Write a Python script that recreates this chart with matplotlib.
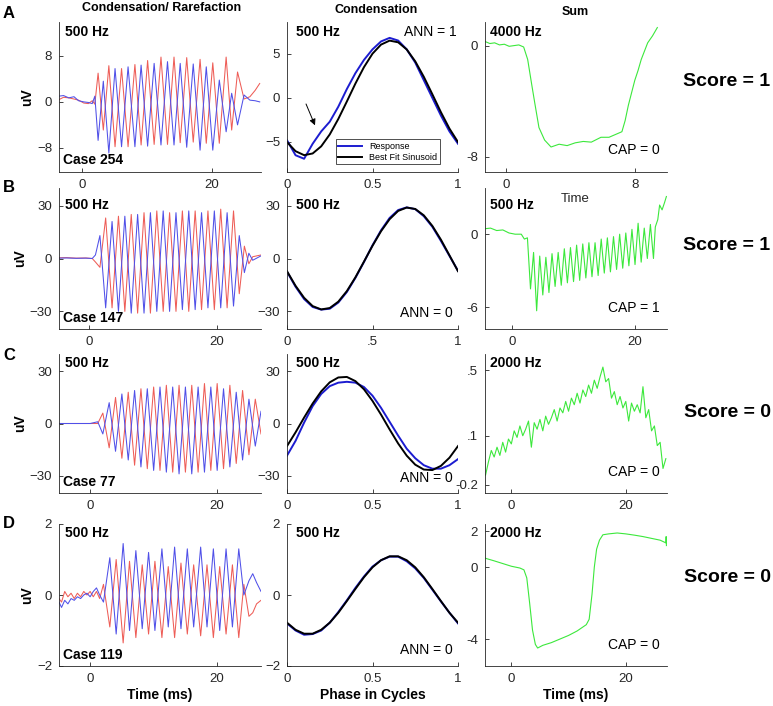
import numpy as np
import matplotlib
matplotlib.use("Agg")
import matplotlib.pyplot as plt

plt.rcParams['font.family'] = ['Liberation Sans', 'DejaVu Sans']

# ---- column 1: condensation (blue) / rarefaction (red), time in ms ----
tA = [-3.5, -2.8, -2.0, -1.2, -0.5, 0.3, 1.0, 1.6, 2.0, 2.5, 3.3, 4.15, 5.1, 6.1, 7.1, 8.15, 9.1, 10.1, 11.1,
      12.15, 13.15, 14.15, 15.1, 16.1, 17.1, 18.15, 19.1, 20.1, 21.1, 22.15, 23.0, 23.9, 24.9, 25.8, 26.6, 27.3]
redA = [0.4, 0.8, 0.7, 0.5, 0.3, -0.2, -0.3, 0.2, -0.4, 5.0, -4.9, 6.3, -7.8, 5.8, -7.8, 6.5, -7.5, 7.2, -7.4,
        7.8, -7.4, 7.8, -7.1, 7.7, -7.0, 7.4, -7.2, 6.8, -7.2, 7.8, -4.9, 5.2, 0.5, 0.9, 2.0, 3.2]
blueA = [1.0, 1.1, 0.7, 0.9, 0.2, 0.0, -0.1, -0.3, 1.0, -6.7, 3.6, -8.9, 5.8, -7.8, 6.1, -7.8, 6.4, -7.7, 6.7,
         -7.5, 7.0, -7.5, 6.7, -7.9, 6.6, -8.4, 6.1, -8.4, 3.8, -5.2, 1.5, -4.0, 1.2, 0.3, 0.2, 0.0]

tB = [-4.7, -3.5, -2.0, -0.5, 0.5, 1.0, 1.7, 2.6, 3.6, 4.6, 5.6, 6.6, 7.6, 8.6, 9.6, 10.6, 11.6, 12.6, 13.6,
      14.6, 15.6, 16.6, 17.6, 18.6, 19.6, 20.6, 21.6, 22.6, 23.5, 24.3, 25.0, 25.6, 26.9]
redB = [0.4, 0.5, 0.2, 0.3, 0.0, -2.0, -5.0, 23.0, -28.0, 24.0, -30.0, 25.0, -31.0, 26.0, -31.0, 27.0, -30.0,
        26.0, -30.0, 27.0, -30.0, 27.0, -29.0, 27.0, -29.0, 28.0, -28.0, 27.0, -20.0, 7.0, -3.0, 1.0, 2.0]
blueB = [0.2, 0.3, 0.1, 0.2, 0.0, 2.0, 13.0, -28.0, 21.0, -30.0, 24.0, -31.0, 25.0, -31.0, 26.0, -30.0, 27.0,
         -30.0, 26.0, -29.0, 27.0, -29.0, 26.0, -28.0, 27.0, -28.0, 26.0, -27.0, 13.0, -8.0, 3.0, -1.0, 1.5]

tC = [-4.9, -2.0, 0.0, 1.2, 2.0, 3.0, 4.0, 5.0, 6.0, 7.0, 8.0, 9.0, 10.0, 11.0, 12.0, 13.0, 14.0, 15.0, 16.0,
      17.0, 18.0, 19.0, 20.0, 21.0, 22.0, 23.0, 24.0, 25.0, 26.0, 26.9]
redC = [0.0, 0.0, 0.0, 0.0, 6.0, -14.0, 15.0, -20.0, 18.0, -24.0, 20.0, -26.0, 21.0, -27.0, 22.0, -28.0, 22.0,
        -28.0, 22.0, -28.0, 23.0, -27.0, 23.0, -26.0, 22.0, -23.0, 19.0, -18.0, 14.0, -6.0]
blueC = [0.0, 0.0, 0.0, 1.0, -6.0, 12.0, -16.0, 17.0, -21.0, 19.0, -25.0, 20.0, -27.0, 21.0, -28.0, 21.0, -29.0,
         21.0, -29.0, 21.0, -28.0, 21.0, -27.0, 20.0, -25.0, 18.0, -21.0, 14.0, -13.0, 7.0]

tD = [-4.9, -4.5, -4.0, -3.5, -3.0, -2.5, -2.0, -1.5, -1.0, -0.5, 0.0, 0.5, 1.0, 1.5, 2.1, 3.1, 4.1, 5.2, 6.2,
      7.2, 8.2, 9.2, 10.2, 11.3, 12.3, 13.3, 14.3, 15.3, 16.3, 17.4, 18.4, 19.4, 20.4, 21.4, 22.4, 23.4, 24.2,
      25.0, 25.6, 26.2, 26.9]
redD = [-0.1, -0.2, 0.1, -0.05, 0.05, -0.1, 0.05, -0.05, 0.1, 0.0, 0.1, -0.05, 0.1, -0.1, 0.3, -0.9, 1.0, -1.35,
        0.95, -1.2, 0.85, -1.1, 0.95, -1.2, 0.8, -1.2, 0.9, -1.1, 0.85, -1.15, 0.85, -1.2, 0.8, -1.1, 0.85, -1.2,
        0.3, -0.6, -0.5, -0.25, -0.15]
blueD = [-0.2, -0.35, -0.15, -0.25, -0.1, -0.15, -0.05, -0.1, 0.0, 0.05, -0.05, 0.1, 0.2, 0.0, -0.2, 1.05, -1.1,
         1.45, -1.0, 1.25, -0.95, 1.2, -1.0, 1.3, -0.9, 1.35, -0.95, 1.3, -0.9, 1.35, -0.9, 1.3, -1.0, 1.3, -0.9,
         1.3, 0.0, 0.4, 0.6, 0.35, 0.1]

# ---- column 2: one cycle, response (blue) vs best fit sinusoid (black) ----
phase = [0.0, 0.05, 0.1, 0.15, 0.2, 0.25, 0.3, 0.35, 0.4, 0.45, 0.5, 0.55, 0.6, 0.65, 0.7, 0.75, 0.8, 0.85,
         0.9, 0.95, 1.0]
respA = [-4.8, -6.5, -6.9, -5.2, -3.8, -2.7, -1.0, 1.0, 2.8, 4.3, 5.5, 6.4, 6.8, 6.5, 5.5, 4.0, 2.0, 0.0,
         -2.0, -3.8, -5.2]
fitA = [-5.01, -6.04, -6.49, -6.30, -5.49, -4.14, -2.39, -0.41, 1.62, 3.48, 5.01, 6.04, 6.49, 6.30, 5.49,
        4.14, 2.39, 0.41, -1.62, -3.48, -5.01]
respB = [-7.5, -16.0, -23.0, -27.5, -29.0, -28.5, -25.0, -19.0, -11.0, -2.0, 7.5, 16.0, 23.0, 27.5, 29.0,
         28.0, 24.0, 18.0, 10.0, 1.5, -7.0]
fitB = [-7.2, -15.5, -22.3, -27.0, -28.9, -28.1, -24.5, -18.5, -10.7, -1.8, 7.2, 15.5, 22.3, 27.0, 28.9,
        28.1, 24.5, 18.5, 10.7, 1.8, -7.2]
respC = [-18.5, -10.0, 0.5, 10.0, 17.0, 21.5, 23.5, 24.0, 23.5, 21.0, 16.0, 9.0, 1.0, -7.0, -14.5, -20.0,
         -24.0, -26.0, -26.0, -24.0, -20.5]
fitC = [-13.0, -5.1, 3.4, 11.5, 18.5, 23.7, 26.5, 26.8, 24.4, 19.7, 13.0, 5.1, -3.4, -11.5, -18.5, -23.7,
        -26.5, -26.8, -24.4, -19.7, -13.0]
respD = [-0.8, -1.0, -1.12, -1.1, -1.0, -0.78, -0.48, -0.15, 0.2, 0.52, 0.8, 0.98, 1.08, 1.08, 0.95, 0.75,
         0.48, 0.15, -0.18, -0.5, -0.8]
fitD = [-0.78, -0.98, -1.09, -1.09, -0.98, -0.78, -0.50, -0.17, 0.17, 0.50, 0.78, 0.98, 1.09, 1.09, 0.98,
        0.78, 0.50, 0.17, -0.17, -0.50, -0.78]

# ---- column 3: sum ----
tSA = [-1.3, -1.0, -0.7, -0.4, -0.1, 0.2, 0.5, 0.8, 1.1, 1.35, 1.6, 1.8, 2.05, 2.4, 2.8, 3.3, 3.8, 4.3, 4.8,
       5.3, 5.9, 6.4, 7.0, 7.2, 7.4, 7.6, 7.8, 8.0, 8.2, 8.4, 8.6, 8.8, 9.1, 9.4]
sumA = [0.3, 0.15, 0.2, 0.05, 0.1, -0.05, 0.0, 0.05, -0.1, -1.0, -2.8, -4.2, -5.9, -6.8, -7.3, -7.1, -7.2, -7.0,
        -6.9, -6.95, -6.6, -6.6, -6.3, -6.2, -5.4, -4.3, -3.4, -2.5, -1.8, -1.0, -0.4, 0.2, 0.7, 1.3]

tSB = [-4.4, -3.5, -2.5, -1.5, -0.5, 0.5, 1.5, 2.0, 2.5, 3.0, 3.5, 4.0, 4.5, 5.0, 5.5, 6.0, 6.5, 7.0, 7.5, 8.0,
       8.5, 9.0, 9.5, 10.0, 10.5, 11.0, 11.5, 12.0, 12.5, 13.0, 13.5, 14.0, 14.5, 15.0, 15.5, 16.0, 16.5, 17.0,
       17.5, 18.0, 18.5, 19.0, 19.5, 20.0, 20.5, 21.0, 21.5, 22.0, 22.5, 23.0, 23.3, 23.7, 24.0, 24.4, 24.8, 25.1]
sumB = [0.45, 0.5, 0.3, 0.35, 0.1, 0.0, 0.0, -0.4, -0.3, -4.5, -1.5, -6.3, -1.8, -5.0, -1.9, -4.8, -1.6, -4.3,
        -1.5, -4.2, -1.2, -4.0, -1.1, -3.9, -0.9, -3.8, -0.8, -3.6, -0.7, -3.5, -0.7, -3.4, -0.4, -3.2, -0.3,
        -3.1, -0.2, -2.9, 0.0, -2.8, 0.1, -2.6, 0.4, -2.5, 0.9, -2.3, 0.5, -2.0, 0.8, -2.0, 0.6, 1.2, 2.4, 2.0,
        2.6, 3.1]

tSC = np.arange(-4.5, 27.5, 0.5)
sumC = [-0.14, -0.06, 0.01, -0.03, 0.03, -0.02, 0.06, 0.00, 0.08, 0.05, 0.13, 0.09, 0.16, 0.10, 0.14, 0.19,
        0.03, 0.18, 0.14, 0.20, 0.13, 0.22, 0.17, 0.21, 0.26, 0.19, 0.27, 0.24, 0.31, 0.25, 0.33, 0.29, 0.36,
        0.30, 0.38, 0.34, 0.41, 0.36, 0.44, 0.39, 0.46, 0.52, 0.43, 0.45, 0.33, 0.37, 0.29, 0.34, 0.27, 0.31,
        0.19, 0.30, 0.25, 0.29, 0.24, 0.40, 0.21, 0.26, 0.13, 0.16, 0.04, 0.06, -0.10, -0.04]

tSD = [-4.6, -3.0, -1.5, 0.0, 1.5, 2.2, 2.7, 3.2, 3.7, 4.2, 4.6, 5.5, 7.0, 8.5, 10.0, 11.5, 13.1, 13.6, 14.1,
       14.5, 14.9, 15.4, 16.0, 17.0, 18.5, 20.0, 21.5, 23.0, 24.5, 26.0, 27.0, 27.05, 27.1]
sumD = [0.5, 0.35, 0.2, 0.05, -0.05, -0.15, -0.6, -2.0, -3.5, -4.3, -4.5, -4.35, -4.2, -4.0, -3.8, -3.55, -3.2,
        -2.9, -1.5, 0.0, 1.0, 1.5, 1.8, 1.85, 1.9, 1.85, 1.78, 1.7, 1.6, 1.5, 1.35, 1.7, 1.2]

freq_lbl = ["500 Hz", "500 Hz", "500 Hz", "500 Hz"]
sum_lbl = ["4000 Hz", "500 Hz", "2000 Hz", "2000 Hz"]
cases = ["Case 254", "Case 147", "Case 77", "Case 119"]
ann = ["ANN = 1", "ANN = 0", "ANN = 0", "ANN = 0"]
cap = ["CAP = 0", "CAP = 1", "CAP = 0", "CAP = 0"]
score = ["Score = 1", "Score = 1", "Score = 0", "Score = 0"]

RED = '#ee5d57'
BLUE = '#5050e8'
DBLUE = '#1c1cd0'
GREEN = '#3ce83c'
TXT = '#262626'

W, H = 773, 706
fig = plt.figure(figsize=(W / 100, H / 100), dpi=100)


def box(l, r, t, b):
    return [l / W, 1 - b / H, (r - l) / W, (b - t) / H]


rows = [(22, 172), (188, 329), (354, 493), (524, 666)]
cols = [(59, 261), (287, 458), (485, 667)]


def style(ax):
    for s in ['top', 'right']:
        ax.spines[s].set_visible(False)
    for s in ['left', 'bottom']:
        ax.spines[s].set_color(TXT)
        ax.spines[s].set_linewidth(0.6)
    ax.tick_params(direction='in', length=3, width=0.6, labelsize=9.5, colors=TXT, pad=5)


col1 = [(tA, redA, blueA), (tB, redB, blueB), (tC, redC, blueC), (tD, redD, blueD)]
c1_xlim = [(-3.5, 27.5), (-4.7, 26.9), (-4.9, 26.9), (-4.9, 26.9)]
c1_ylim = [(-12.2, 13.9), (-40, 40), (-40, 40), (-2, 2)]
c1_yt = [[-8, 0, 8], [-30, 0, 30], [-30, 0, 30], [-2, 0, 2]]
c2 = [(respA, fitA), (respB, fitB), (respC, fitC), (respD, fitD)]
c2_ylim = [(-8.4, 8.6), (-40, 40), (-40, 40), (-2, 2)]
c2_yt = [[-5, 0, 5], [-30, 0, 30], [-30, 0, 30], [-2, 0, 2]]
c2_xtl = [["0", "0.5", "1"], ["0", ".5", "1"], ["0", "0.5", "1"], ["0", "0.5", "1"]]
c3 = [(tSA, sumA), (tSB, sumB), (tSC, sumC), (tSD, sumD)]
c3_xlim = [(-1.3, 10.0), (-4.4, 25.2), (-4.6, 27.2), (-4.6, 27.2)]
c3_ylim = [(-9.1, 1.7), (-7.8, 3.8), (-0.25, 0.6), (-5.5, 2.4)]
c3_xt = [[0, 8], [0, 20], [0, 20], [0, 20]]
c3_yt = [[-8, 0], [-6, 0], [-0.2, 0.1, 0.5], [-4, 0, 2]]
c3_ytl = [["-8", "0"], ["-6", "0"], ["-0.2", ".1", ".5"], ["-4", "0", "2"]]
hz_y = [0.93, 0.88, 0.935, 0.94]

for i, (top, bot) in enumerate(rows):
    # column 1
    ax = fig.add_axes(box(cols[0][0], cols[0][1], top, bot))
    t, r, b = col1[i]
    ax.plot(t, r, color=RED, lw=0.75)
    ax.plot(t, b, color=BLUE, lw=0.75)
    ax.set_xlim(*c1_xlim[i])
    ax.set_ylim(*c1_ylim[i])
    ax.set_xticks([0, 20])
    ax.set_yticks(c1_yt[i])
    style(ax)
    ax.set_ylabel("uV", fontsize=10, fontweight='bold', labelpad=2)
    ax.text(0.03, hz_y[i], freq_lbl[i], transform=ax.transAxes, fontsize=10, fontweight='bold', va='center')
    ax.text(0.02, 0.08, cases[i], transform=ax.transAxes, fontsize=10, fontweight='bold', va='center')
    if i == 3:
        ax.set_xlabel("Time (ms)", fontsize=10, fontweight='bold', labelpad=2)

    # column 2
    ax = fig.add_axes(box(cols[1][0], cols[1][1], top, bot))
    resp, fit = c2[i]
    ax.plot(phase, resp, color=DBLUE, lw=1.4, label="Response")
    ax.plot(phase, fit, color='black', lw=1.4, label="Best Fit Sinusoid")
    ax.set_xlim(0, 1)
    ax.set_ylim(*c2_ylim[i])
    ax.set_xticks([0, 0.5, 1])
    ax.set_xticklabels(c2_xtl[i])
    ax.set_yticks(c2_yt[i])
    style(ax)
    ax.text(0.05, hz_y[i], freq_lbl[i], transform=ax.transAxes, fontsize=10, fontweight='bold', va='center')
    if i == 0:
        ax.text(0.99, 0.93, ann[i], transform=ax.transAxes, fontsize=10, ha='right', va='center')
        ax.annotate("", xy=(0.17, -3.4), xytext=(0.105, -0.4),
                    arrowprops=dict(arrowstyle='-|>', color='black', lw=0.7, mutation_scale=9))
        leg = ax.legend(loc='lower right', fontsize=6.5, frameon=True, fancybox=False, borderpad=0.3,
                        handlelength=2.6, labelspacing=0.2, bbox_to_anchor=(0.92, 0.02))
        leg.get_frame().set_edgecolor('black')
        leg.get_frame().set_linewidth(0.6)
    else:
        ax.text(0.97, 0.11, ann[i], transform=ax.transAxes, fontsize=10, ha='right', va='center')
    if i == 3:
        ax.set_xlabel("Phase in Cycles", fontsize=10, fontweight='bold', labelpad=2)

    # column 3
    ax = fig.add_axes(box(cols[2][0], cols[2][1], top, bot))
    ts, s = c3[i]
    ax.plot(ts, s, color=GREEN, lw=0.8)
    ax.set_xlim(*c3_xlim[i])
    ax.set_ylim(*c3_ylim[i])
    ax.set_xticks(c3_xt[i])
    ax.set_yticks(c3_yt[i])
    ax.set_yticklabels(c3_ytl[i])
    style(ax)
    ax.text(0.03, hz_y[i], sum_lbl[i], transform=ax.transAxes, fontsize=10, fontweight='bold', va='center')
    ax.text(0.96, 0.15, cap[i], transform=ax.transAxes, fontsize=10, ha='right', va='center')
    if i == 3:
        ax.set_xlabel("Time (ms)", fontsize=10, fontweight='bold', labelpad=2)

    # score and panel letter
    fig.text(727 / W, 1 - [81, 245, 413, 577][i] / H, score[i], fontsize=14, fontweight='bold',
             ha='center', va='center')
    fig.text(9 / W, 1 - [13, 187, 355, 524][i] / H, "ABCD"[i], fontsize=12, fontweight='bold',
             ha='center', va='center')

fig.text(162 / W, 1 - 8 / H, "Condensation/ Rarefaction", fontsize=9, fontweight='bold', ha='center', va='center')
fig.text(376 / W, 1 - 10 / H, "Condensation", fontsize=9, fontweight='bold', ha='center', va='center')
fig.text(575 / W, 1 - 12 / H, "Sum", fontsize=9, fontweight='bold', ha='center', va='center')
fig.text(575 / W, 1 - 199 / H, "Time", fontsize=9.5, ha='center', va='center', color=TXT)

fig.savefig("out.png", dpi=100)
